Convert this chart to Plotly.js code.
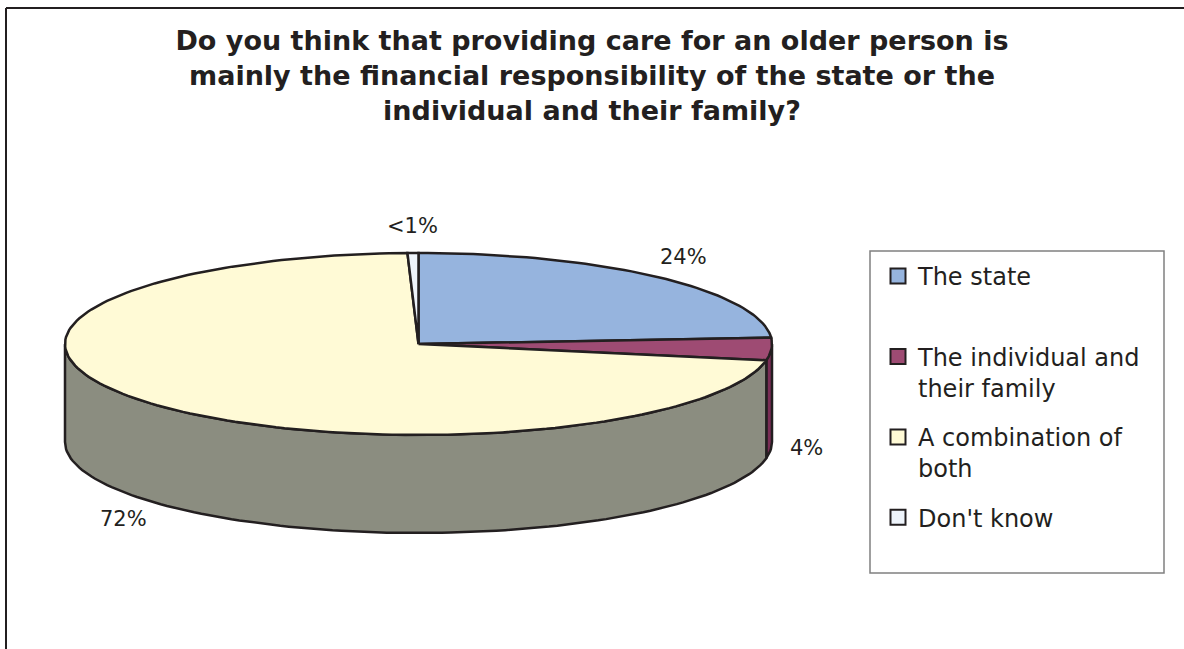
<!DOCTYPE html>
<html>
<head>
<meta charset="utf-8">
<script src="https://cdn.plot.ly/plotly-3.0.1.min.js"></script>
<style>
  html, body { margin: 0; padding: 0; background: #ffffff; }
  #chart { width: 1184px; height: 649px; }
</style>
</head>
<body>
<div id="chart"></div>
<script>
// ---- Data ----
const categories = ["The state", "The individual and their family", "A combination of both", "Don't know"];
const values = [24, 4, 72, 0.5];
const valueLabels = ["24%", "4%", "72%", "&lt;1%"];
const legendLabels = ["The state<br> ", "The individual and<br>their family", "A combination of<br>both", "Don't know<br> "];
const topColors = ["#96b4de", "#9e4b73", "#fffad6", "#eef4fb"];
const sideColors = ["#6f86a8", "#7a2d55", "#8b8d80", "#b8bcc0"];
const titleText = "Do you think that providing care for an older person is<br>mainly the financial responsibility of the state or the<br>individual and their family?";

// ---- Geometry of the 3-D pie (pixel space of the hidden axes) ----
const W = 1184, H = 649;
const cx = 418.5, cy = 344, rx = 353.5, ry = 91, depth = 98;
const edge = "#231f20";

function pt(theta, dy) {
  const r = theta * Math.PI / 180;
  return [cx + rx * Math.cos(r), cy - ry * Math.sin(r) + (dy || 0)];
}
function arc(a0, a1, dy) {
  const n = Math.max(2, Math.ceil(Math.abs(a0 - a1) / 1.5));
  const xs = [], ys = [];
  for (let i = 0; i <= n; i++) {
    const p = pt(a0 + (a1 - a0) * i / n, dy);
    xs.push(p[0]); ys.push(p[1]);
  }
  return [xs, ys];
}

const total = values.reduce((a, b) => a + b, 0);
const traces = [];
const annotations = [];
const sideTraces = [], topTraces = [];
let cum = 0;
values.forEach((v, i) => {
  const a0 = 90 - 360 * cum / total;
  cum += v;
  const a1 = 90 - 360 * cum / total;

  // visible side (front half: angles in [-180, 0] or [-540, -360])
  [[-180, 0], [-540, -360]].forEach(([lo, hi]) => {
    const s = Math.min(a0, hi), e = Math.max(a1, lo);
    if (s > e) {
      const top = arc(s, e, 0), bot = arc(e, s, depth);
      const xs = top[0].concat(bot[0]), ys = top[1].concat(bot[1]);
      xs.push(xs[0]); ys.push(ys[0]);
      sideTraces.push({
        type: "scatter", mode: "lines", x: xs, y: ys, fill: "toself",
        fillcolor: sideColors[i], line: { color: edge, width: 2.5 },
        hoverinfo: "skip", showlegend: false
      });
    }
  });

  // top face
  const ar = arc(a0, a1, 0);
  const xs = [cx].concat(ar[0], [cx]), ys = [cy].concat(ar[1], [cy]);
  topTraces.push({
    type: "scatter", mode: "lines", x: xs, y: ys, fill: "toself",
    fillcolor: topColors[i], line: { color: edge, width: 2.5, join: "round" },
    hoverinfo: "skip", showlegend: false, name: categories[i]
  });

  // label
  const mid = (a0 + a1) / 2, mr = mid * Math.PI / 180;
  let lx = cx + 1.1 * rx * Math.cos(mr);
  let ly = cy - 1.3 * ry * Math.sin(mr);
  if (Math.sin(mr) < 0) ly += depth;
  annotations.push({
    x: lx, y: ly, xref: "x", yref: "y", text: valueLabels[i], showarrow: false,
    font: { family: "Verdana, DejaVu Sans, sans-serif", size: 21, color: edge }
  });
});

traces.push(...sideTraces, ...topTraces);

// legend entries
categories.forEach((c, i) => {
  traces.push({
    type: "scatter", mode: "markers", x: [null], y: [null],
    name: legendLabels[i], legendgroup: "g" + i, showlegend: true,
    marker: { symbol: "square", size: 15, color: topColors[i], line: { color: edge, width: 2 } },
    hoverinfo: "skip"
  });
});

const layout = {
  width: W, height: H,
  margin: { l: 0, r: 0, t: 0, b: 0 },
  paper_bgcolor: "#ffffff", plot_bgcolor: "#ffffff",
  xaxis: { range: [0, W], visible: false, fixedrange: true },
  yaxis: { range: [H, 0], visible: false, fixedrange: true },
  title: {
    text: titleText, x: 0.5, xanchor: "center", xref: "paper",
    y: 1 - 50 / H, yanchor: "top", yref: "container",
    font: { family: "Verdana, DejaVu Sans, sans-serif", size: 27, weight: "bold", color: edge }
  },
  showlegend: true,
  legend: {
    x: 878 / W, xanchor: "left", y: 1 - 254 / H, yanchor: "top",
    bgcolor: "rgba(0,0,0,0)", borderwidth: 0,
    font: { family: "Verdana, DejaVu Sans, sans-serif", size: 24, color: edge },
    traceorder: "grouped", tracegroupgap: 15, valign: "top", itemwidth: 30
  },
  annotations: annotations,
  shapes: [
    { type: "rect", xref: "x", yref: "y", x0: 870, x1: 1164, y0: 251, y1: 573,
      line: { color: "#808080", width: 1.5 } },
    { type: "line", xref: "x", yref: "y", x0: 6, x1: W, y0: 8, y1: 8,
      line: { color: edge, width: 2 } },
    { type: "line", xref: "x", yref: "y", x0: 6, x1: 6, y0: 8, y1: H,
      line: { color: edge, width: 2 } }
  ]
};

Plotly.newPlot("chart", traces, layout, { displayModeBar: false, staticPlot: true });
</script>
</body>
</html>
